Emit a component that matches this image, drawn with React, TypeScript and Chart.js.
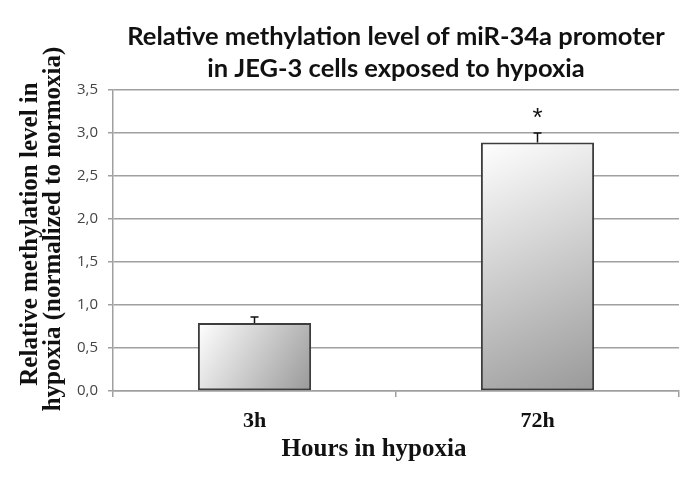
import React, { useEffect, useRef } from "react";
import { Chart, registerables } from "chart.js";

Chart.register(...registerables);

const categories = ["3h", "72h"];
const values = [0.79, 2.89];
const errors = [0.07, 0.11];
const significance = ["", "*"];
const yMin = 0;
const yMax = 3.5;
const yStep = 0.5;

const titleLines = [
  "Relative methylation level of miR-34a promoter",
  "in JEG-3 cells exposed to hypoxia",
];
const yTitleLines = [
  "Relative methylation level in",
  "hypoxia (normalized to normoxia)",
];
const xTitle = "Hours in hypoxia";

const overlayPlugin = {
  id: "overlay",
  afterDatasetsDraw(chart: any) {
    const { ctx } = chart;
    const xs = chart.scales.x;
    const ys = chart.scales.y;
    ctx.save();
    ctx.strokeStyle = "#111";
    ctx.lineWidth = 1.5;
    values.forEach((v, i) => {
      const x = xs.getPixelForValue(i);
      const yb = ys.getPixelForValue(v);
      const yt = ys.getPixelForValue(v + errors[i]);
      ctx.beginPath();
      ctx.moveTo(x, yb);
      ctx.lineTo(x, yt);
      ctx.moveTo(x - 4, yt);
      ctx.lineTo(x + 4, yt);
      ctx.stroke();
      if (significance[i]) {
        ctx.fillStyle = "#111";
        ctx.font = "26px 'Liberation Sans'";
        ctx.textAlign = "center";
        ctx.textBaseline = "alphabetic";
        ctx.fillText(significance[i], x, yt - 7);
      }
    });
    ctx.restore();
  },
  afterDraw(chart: any) {
    const { ctx, chartArea } = chart;
    ctx.save();
    ctx.fillStyle = "#111";
    ctx.textAlign = "center";
    ctx.textBaseline = "middle";
    ctx.font = "bold 25.5px Lato";
    const cx = (chartArea.left + chartArea.right) / 2;
    ctx.fillText(titleLines[0], cx, 37);
    ctx.fillText(titleLines[1], cx, 69);

    ctx.font = "bold 25px 'Liberation Serif'";
    ctx.fillText(xTitle, 374, 450);

    ctx.save();
    ctx.translate(31, 234);
    ctx.rotate(-Math.PI / 2);
    ctx.fillText(yTitleLines[0], 0, 0);
    ctx.restore();
    ctx.save();
    ctx.translate(54, 229);
    ctx.rotate(-Math.PI / 2);
    ctx.fillText(yTitleLines[1], 0, 0);
    ctx.restore();
    ctx.restore();
  },
};

export default function App() {
  const ref = useRef<HTMLCanvasElement | null>(null);
  useEffect(() => {
    if (!ref.current) return;
    const chart = new Chart(ref.current, {
      type: "bar",
      data: {
        labels: categories,
        datasets: [
          {
            data: values,
            backgroundColor: (c: any) => {
              const chart = c.chart;
              if (!chart.chartArea || c.type !== "data") return "#cccccc";
              const xs = chart.scales.x;
              const ys = chart.scales.y;
              const xc = xs.getPixelForValue(c.dataIndex);
              const half = (xs.width / categories.length) * 0.4 / 2;
              const top = ys.getPixelForValue(values[c.dataIndex]);
              const bottom = ys.getPixelForValue(0);
              const g = chart.ctx.createLinearGradient(xc - half, top, xc + half, bottom);
              g.addColorStop(0, "#ffffff");
              g.addColorStop(1, "#999999");
              return g;
            },
            borderColor: "#3d3d3d",
            borderWidth: 2,
            borderSkipped: false,
            categoryPercentage: 1,
            barPercentage: 0.4,
          },
        ],
      },
      options: {
        animation: false,
        responsive: false,
        maintainAspectRatio: false,
        layout: { padding: { left: 0, top: 90, right: 21, bottom: 40 } },
        plugins: {
          legend: { display: false },
          tooltip: { enabled: false },
          title: { display: false },
        },
        scales: {
          x: {
            offset: true,
            grid: {
              offset: true,
              drawOnChartArea: false,
              drawTicks: true,
              tickLength: 6,
              color: "#a0a0a0",
              lineWidth: 1.5,
            },
            border: { color: "#a0a0a0", width: 1.5 },
            ticks: {
              color: "#111",
              font: { family: "'Liberation Serif'", size: 22, weight: "bold" },
              padding: 11,
            },
            afterFit: (s: any) => {
              s.height = 52;
            },
          },
          y: {
            min: yMin,
            max: yMax,
            grid: {
              color: "#a0a0a0",
              lineWidth: 1.5,
              tickLength: 5,
            },
            border: { color: "#a0a0a0", width: 1.5 },
            ticks: {
              stepSize: yStep,
              color: "#444",
              font: { family: "'Open Sans'", size: 15 },
              padding: 10,
              callback: (v: any) => Number(v).toFixed(1).replace(".", ","),
            },
            afterFit: (s: any) => {
              s.width = 113;
            },
          },
        },
      },
      plugins: [overlayPlugin],
    });
    return () => chart.destroy();
  }, []);
  return (
    <div style={{ position: "fixed", left: 0, top: 0, width: 700, height: 483, background: "#fff" }}>
      <canvas ref={ref} width={700} height={483} style={{ width: 700, height: 483 }} />
    </div>
  );
}
